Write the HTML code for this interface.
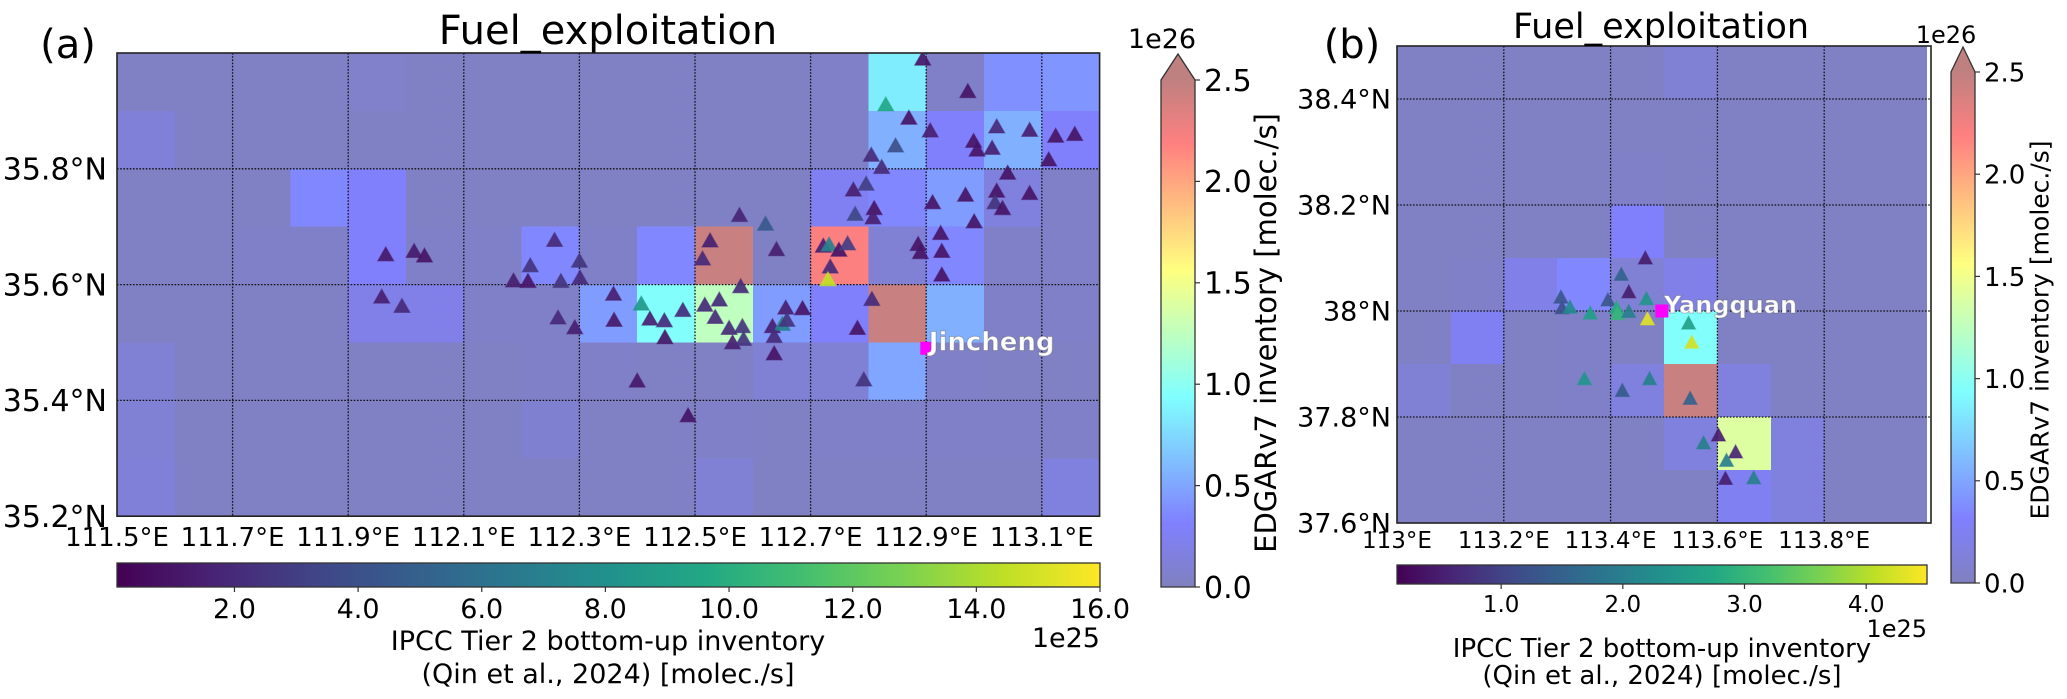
<!DOCTYPE html>
<html><head><meta charset="utf-8"><style>
html,body{margin:0;padding:0;background:#fff;}
svg{display:block;font-family:"DejaVu Sans","Liberation Sans",sans-serif;}
</style></head><body>
<svg id="fig" xmlns="http://www.w3.org/2000/svg" width="2067" height="699" viewBox="0 0 2067 699">
<defs>
<linearGradient id="gJetL" x1="0" y1="1" x2="0" y2="0"></linearGradient>
<linearGradient id="gJetR" x1="0" y1="1" x2="0" y2="0"></linearGradient>
<linearGradient id="gVirL" x1="0" y1="0" x2="1" y2="0"></linearGradient>
<linearGradient id="gVirR" x1="0" y1="0" x2="1" y2="0"></linearGradient>
<clipPath id="clipL"><rect x="117" y="53" width="983" height="463"/></clipPath>
<clipPath id="clipR"><rect x="1397" y="46" width="530" height="477"/></clipPath>
</defs>
<g id="panelA"></g>
<g id="panelB"></g>
<text x="68" y="58" font-size="40" text-anchor="middle">(a)</text>
<text x="608" y="44" font-size="40" text-anchor="middle">Fuel_exploitation</text>
<text x="1352" y="58" font-size="40" text-anchor="middle">(b)</text>
<text x="1661" y="38" font-size="35" text-anchor="middle">Fuel_exploitation</text>
<text x="1162" y="48" font-size="27" text-anchor="middle">1e26</text>
<text x="1946" y="43" font-size="24" text-anchor="middle">1e26</text>
<text transform="translate(1266,333) rotate(-90)" font-size="29" text-anchor="middle" dominant-baseline="central">EDGARv7 inventory [molec./s]</text>
<text transform="translate(2040,330) rotate(-90)" font-size="25" text-anchor="middle" dominant-baseline="central">EDGARv7 inventory [molec./s]</text>
<text x="1100" y="647" font-size="27" text-anchor="end">1e25</text>
<text x="608" y="650" font-size="27" text-anchor="middle">IPCC Tier 2 bottom-up inventory</text>
<text x="608" y="683" font-size="27" text-anchor="middle">(Qin et al., 2024) [molec./s]</text>
<text x="1927" y="637" font-size="24" text-anchor="end">1e25</text>
<text x="1662" y="657" font-size="26" text-anchor="middle">IPCC Tier 2 bottom-up inventory</text>
<text x="1662" y="684" font-size="26" text-anchor="middle">(Qin et al., 2024) [molec./s]</text>
</svg>
<script>
// ---------- DATA ----------
// EDGAR grid (units 1e26 molec/s), rows from north to south
const leftGridRows = [
 [0.03,0.03,0.03,0.03,0.06,0.03,0.03,0.03,0.03,0.03,0.03,0.03,0.05,0.85,0.05,0.40,0.42],
 [0.12,0.03,0.03,0.03,0.03,0.03,0.03,0.03,0.03,0.03,0.03,0.03,0.05,0.55,0.30,0.55,0.30],
 [0.03,0.03,0.03,0.35,0.30,0.03,0.03,0.03,0.03,0.03,0.03,0.03,0.25,0.35,0.45,0.15,0.05],
 [0.03,0.03,0.05,0.05,0.30,0.05,0.05,0.35,0.05,0.35,2.45,0.03,2.20,0.10,0.35,0.05,0.05],
 [0.03,0.03,0.03,0.03,0.20,0.20,0.05,0.05,0.45,0.95,1.25,0.45,0.30,2.45,0.55,0.05,0.05],
 [0.10,0.03,0.03,0.03,0.03,0.03,0.03,0.05,0.05,0.03,0.03,0.10,0.10,0.50,0.05,0.03,0.03],
 [0.10,0.03,0.03,0.03,0.03,0.03,0.03,0.08,0.03,0.03,0.05,0.03,0.05,0.05,0.05,0.05,0.05],
 [0.12,0.03,0.03,0.03,0.03,0.03,0.03,0.03,0.03,0.03,0.10,0.03,0.03,0.03,0.03,0.03,0.15]
];
const rightGridRows = [
 [0.03,0.03,0.03,0.03,0.03,0.10,0.03,0.03,0.03,0.03],
 [0.03,0.03,0.03,0.03,0.03,0.03,0.03,0.03,0.03,0.03],
 [0.03,0.03,0.03,0.03,0.05,0.03,0.03,0.03,0.03,0.03],
 [0.03,0.03,0.03,0.03,0.30,0.03,0.03,0.03,0.03,0.03],
 [0.03,0.05,0.20,0.35,0.10,0.20,0.03,0.03,0.03,0.03],
 [0.03,0.25,0.03,0.05,0.03,0.95,0.03,0.03,0.03,0.03],
 [0.10,0.03,0.03,0.05,0.15,2.45,0.15,0.03,0.03,0.03],
 [0.03,0.03,0.03,0.03,0.03,0.15,1.40,0.15,0.03,0.03],
 [0.03,0.03,0.03,0.03,0.03,0.03,0.25,0.15,0.03,0.03]
];
// IPCC point sources (units 1e25 molec/s)
const leftLon = [111.965,112.014,112.032,111.958,111.993,112.257,112.215,112.186,112.211,112.268,112.300,112.301,112.359,112.360,112.263,112.292,112.407,112.422,112.447,112.448,112.479,112.577,112.622,112.526,112.513,112.641,112.579,112.517,112.542,112.535,112.559,112.582,112.565,112.584,112.657,112.686,112.634,112.651,112.637,112.659,112.637,112.400,112.488,
 112.894,112.830,112.972,112.870,112.907,112.847,112.805,112.823,112.982,112.988,113.014,113.022,113.079,113.124,113.157,113.112,113.041,112.774,112.796,112.777,112.810,112.808,112.911,112.968,113.022,113.019,113.032,113.079,112.983,112.925,112.927,112.927,112.886,112.890,112.722,112.732,112.749,112.764,112.734,112.730,112.806,112.781,112.792];
const leftLat = [35.653,35.659,35.651,35.580,35.564,35.678,35.634,35.608,35.607,35.607,35.642,35.613,35.585,35.540,35.544,35.527,35.568,35.542,35.539,35.510,35.557,35.721,35.706,35.677,35.646,35.662,35.598,35.566,35.575,35.545,35.526,35.529,35.501,35.507,35.561,35.560,35.529,35.533,35.512,35.540,35.482,35.435,35.375,
 35.991,35.912,35.935,35.889,35.867,35.841,35.825,35.804,35.849,35.834,35.837,35.874,35.868,35.858,35.861,35.817,35.794,35.765,35.775,35.723,35.733,35.717,35.743,35.756,35.763,35.743,35.733,35.759,35.710,35.690,35.659,35.618,35.671,35.657,35.668,35.670,35.661,35.672,35.632,35.610,35.576,35.526,35.437];
const leftVal = [1.2,1.3,1.0,1.5,2.0,2.0,2.5,1.5,1.0,2.5,2.5,2.0,1.5,1.2,2.0,1.5,8.5,1.5,2.0,1.0,2.0,1.8,4.5,1.5,2.0,1.5,2.0,2.0,2.0,2.0,2.0,2.5,1.5,2.5,1.5,1.0,1.5,7.0,2.0,2.5,1.0,1.2,1.0,
 1.0,9.5,1.0,1.0,1.5,4.0,2.0,2.0,1.0,1.0,1.5,2.0,1.5,1.0,1.0,1.0,1.0,1.5,3.0,3.5,1.0,1.5,1.0,1.0,1.0,2.5,1.0,1.0,1.0,1.0,1.0,1.0,1.0,1.0,1.5,7.0,1.0,3.0,2.0,14.5,2.0,1.0,2.5];
const rightLon = [113.465,113.420,113.434,113.467,113.395,113.307,113.309,113.324,113.362,113.411,113.413,113.434,113.469,113.546,113.552,113.351,113.473,113.422,113.549,113.574,113.602,113.634,113.617,113.615,113.668];
const rightLat = [38.101,38.070,38.037,38.024,38.022,38.027,38.007,38.008,37.997,38.007,37.996,38.000,37.986,37.978,37.942,37.873,37.873,37.851,37.836,37.752,37.767,37.735,37.719,37.685,37.686];
const rightVal = [0.5,1.5,0.5,2.4,1.3,1.3,1.2,2.2,2.6,2.8,3.0,2.0,4.3,2.6,4.2,2.4,2.0,1.4,1.5,2.0,0.5,0.6,2.0,0.5,2.0];
// ticks
const leftLonTicks = [111.5,111.7,111.9,112.1,112.3,112.5,112.7,112.9,113.1];
const leftLatTicks = [35.2,35.4,35.6,35.8];
const rightLonTicks = [113.0,113.2,113.4,113.6,113.8];
const rightLonLabels = ["113°E","113.2°E","113.4°E","113.6°E","113.8°E"];
const rightLatTicks = [37.6,37.8,38.0,38.2,38.4];
const rightLatLabels = ["37.6°N","37.8°N","38°N","38.2°N","38.4°N"];
const edgarTicks = [0.0,0.5,1.0,1.5,2.0,2.5];
const ipccTicksL = [2,4,6,8,10,12,14,16];
const ipccTicksR = [1,2,3,4];
const cities = ["Jincheng","Yangquan"];
const cityLon = [112.901,113.496];
const cityLat = [35.490,38.0];

// ---------- HELPERS ----------
const NS="http://www.w3.org/2000/svg";
const svg=document.getElementById('fig');
function mk(tag,attrs,parent){const e=document.createElementNS(NS,tag);for(const k in attrs)e.setAttribute(k,attrs[k]);(parent||svg).appendChild(e);return e;}
function cl(v){return Math.max(0,Math.min(1,v));}
function jet(t){t=cl(t);const r=cl(1.5-Math.abs(4*t-3)),g=cl(1.5-Math.abs(4*t-2)),b=cl(1.5-Math.abs(4*t-1));
 const f=c=>Math.round((0.5*c+0.5)*255);return `rgb(${f(r)},${f(g)},${f(b)})`;}
const vir=["#440154","#482475","#414487","#355f8d","#2a788e","#21918c","#22a884","#44bf70","#7ad151","#bddf26","#fde725"];
function hx(h){return [1,3,5].map(i=>parseInt(h.substr(i,2),16));}
function viridis(t){t=cl(t);const p=t*10,i=Math.min(9,Math.floor(p)),f=p-i;const a=hx(vir[i]),b=hx(vir[i+1]);
 return `rgb(${a.map((v,k)=>Math.round(v+(b[k]-v)*f)).join(',')})`;}
function fillGrad(id,fn){const g=document.getElementById(id);for(let i=0;i<=40;i++){mk('stop',{offset:(i/40),'stop-color':fn(i/40)},g);}}
fillGrad('gJetL',jet);fillGrad('gJetR',jet);fillGrad('gVirL',viridis);fillGrad('gVirR',viridis);

function panel(o){
 const P=document.getElementById(o.gid);
 const X=lon=>o.x0+(lon-o.lon0)*o.sx, Y=lat=>o.y0+(o.lat0-lat)*o.sy;
 const rows=o.grid.length, cols=o.grid[0].length;
 const W=cols*0.1*o.sx, H=rows*0.1*o.sy;
 const cells=mk('g',{'clip-path':o.clip,'shape-rendering':'crispEdges'},P);
 
 
 for(let r=0;r<rows;r++)for(let c=0;c<cols;c++){
  const v=o.grid[r][c];
  const rc=mk('rect',{x:X(o.lon0+c*0.1),y:Y(o.lat0-r*0.1),width:0.1*o.sx+0.6,height:0.1*o.sy+0.6,fill:jet(v/2.5)},cells);
  
  
 }
 const gl=mk('g',{stroke:'#111','stroke-width':1.3,'stroke-dasharray':'1.6,1.6'},P);
 
 
 o.lonTicks.forEach(l=>{const x=X(l);if(x>o.x0+2&&x<o.x0+W-2)mk('line',{x1:x,x2:x,y1:o.y0,y2:o.y0+H},gl);});
 o.latTicks.forEach(l=>{const y=Y(l);if(y>o.y0+2&&y<o.y0+H-2)mk('line',{x1:o.x0,x2:o.x0+W,y1:y,y2:y},gl);});
 const fr=mk('rect',{x:o.x0,y:o.y0,width:W,height:H,fill:'none',stroke:'#222','stroke-width':1.6},P);
 
 
 o.lonTicks.forEach((l,i)=>{const t=mk('text',{x:X(l),y:o.y0+H+o.lonDy,'font-size':o.fs,'text-anchor':'middle'},P);t.textContent=o.lonLabels[i];
  
  });
 o.latTicks.forEach((l,i)=>{const t=mk('text',{x:o.latX,y:Y(l)+o.fsLat*0.36,'font-size':o.fsLat,'text-anchor':'end'},P);t.textContent=o.latLabels[i];
  
  });
 // points
 const pts=mk('g',{'clip-path':o.clip},P);
 
 
 o.lon.forEach((ln,i)=>{const cx=X(ln),cy=Y(o.lat[i]),w=o.tw,h=o.th;
  const col=viridis((o.val[i]-o.vmin)/(o.vmax-o.vmin));
  const p=mk('polygon',{points:`${cx},${cy-h/2} ${cx-w/2},${cy+h/2} ${cx+w/2},${cy+h/2}`,fill:col,'fill-opacity':0.92,stroke:col,'stroke-opacity':0.5,'stroke-width':1.2},pts);
  
  });
 // city
 const cx=X(o.cityLon),cy=Y(o.cityLat);
 const sq=mk('rect',{x:cx-6.5,y:cy-6.5,width:13,height:13,fill:'#ff00ff'},P);
 
 
 const ct=mk('text',{x:cx+2,y:cy+2,'font-size':o.cityFs,'font-weight':'bold',fill:'#fff',stroke:'rgba(80,80,80,0.35)','stroke-width':1},P);
 ct.textContent=o.cityName;
 
 
 // vertical EDGAR colorbar
 const vb=o.vbar;const vy=v=>vb.y0-(v/2.5)*(vb.y0-vb.y1);
 const cb=mk('g',{},P);
 
 
 mk('rect',{x:vb.x,y:vb.y1,width:vb.w,height:vb.y0-vb.y1,fill:`url(#${vb.grad})`},cb);
 mk('polygon',{points:`${vb.x},${vb.y1} ${vb.x+vb.w/2},${vb.apex} ${vb.x+vb.w},${vb.y1}`,fill:jet(1)},cb);
 mk('polygon',{points:`${vb.x},${vb.y0} ${vb.x},${vb.y1} ${vb.x+vb.w/2},${vb.apex} ${vb.x+vb.w},${vb.y1} ${vb.x+vb.w},${vb.y0}`,fill:'none',stroke:'#333','stroke-width':1.3},cb);
 edgarTicks.forEach(v=>{const y=vy(v);mk('line',{x1:vb.x+vb.w,x2:vb.x+vb.w+5,y1:y,y2:y,stroke:'#333','stroke-width':1.2},cb);
  const t=mk('text',{x:vb.x+vb.w+9,y:y+vb.fs*0.36,'font-size':vb.fs},cb);t.textContent=v.toFixed(1);
  
  });
 // horizontal IPCC colorbar
 const hb=o.hbar;const hxs=v=>hb.x0+(v-o.vmin)/(o.vmax-o.vmin)*(hb.x1-hb.x0);
 const hg=mk('g',{},P);
 
 
 mk('rect',{x:hb.x0,y:hb.y0,width:hb.x1-hb.x0,height:hb.y1-hb.y0,fill:`url(#${hb.grad})`,stroke:'#333','stroke-width':1.3},hg);
 o.ipccTicks.forEach(v=>{const x=hxs(v);mk('line',{x1:x,x2:x,y1:hb.y1,y2:hb.y1+5,stroke:'#333','stroke-width':1.2},hg);
  const t=mk('text',{x:x,y:hb.ty,'font-size':hb.fs,'text-anchor':'middle'},hg);t.textContent=v.toFixed(1);
  
  });
}

panel({gid:'panelA',clip:'url(#clipL)',x0:117,y0:53,lon0:111.5,lat0:36.0,sx:578,sy:579,grid:leftGridRows,
 lonTicks:leftLonTicks,lonLabels:leftLonTicks.map(v=>v.toFixed(1)+'°E'),latTicks:leftLatTicks,latLabels:leftLatTicks.map(v=>v.toFixed(1)+'°N'),
 fs:26,fsLat:30,lonDy:30,latX:107,lon:leftLon,lat:leftLat,val:leftVal,vmin:0.1,vmax:16,tw:16,th:14,
 cityLon:cityLon[0],cityLat:cityLat[0],cityName:cities[0],cityFs:26,
 vbar:{x:1161,w:34,y0:587,y1:80,apex:54,grad:'gJetL',fs:30},
 hbar:{x0:117,x1:1100,y0:563,y1:587,grad:'gVirL',fs:27,ty:618},ipccTicks:ipccTicksL});
panel({gid:'panelB',clip:'url(#clipR)',x0:1397,y0:46,lon0:113.0,lat0:38.5,sx:534,sy:530,grid:rightGridRows,
 lonTicks:rightLonTicks,lonLabels:rightLonLabels,latTicks:rightLatTicks,latLabels:rightLatLabels,
 fs:23,fsLat:27,lonDy:25,latX:1391,lon:rightLon,lat:rightLat,val:rightVal,vmin:0.144,vmax:4.5,tw:14,th:13,
 cityLon:cityLon[1],cityLat:cityLat[1],cityName:cities[1],cityFs:24,
 vbar:{x:1951,w:24,y0:583,y1:72,apex:47,grad:'gJetR',fs:26},
 hbar:{x0:1397,x1:1927,y0:565,y1:584,grad:'gVirR',fs:23,ty:612},ipccTicks:ipccTicksR});
</script>
</body></html>
